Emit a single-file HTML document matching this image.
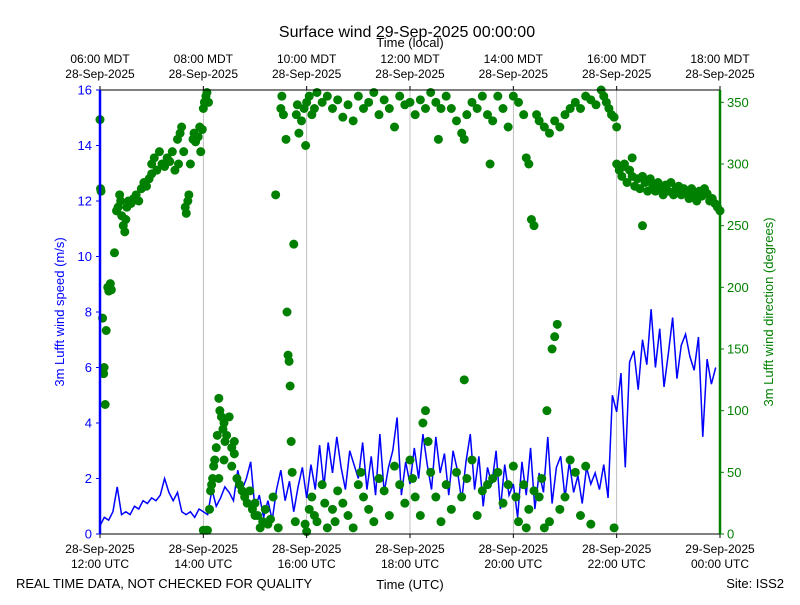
<!DOCTYPE html>
<html><head><meta charset="utf-8"><style>
body{margin:0;background:#fff}
svg{font-family:"Liberation Sans","DejaVu Sans",sans-serif}
</style></head><body>
<svg id="c" width="800" height="600" xmlns="http://www.w3.org/2000/svg">
<rect width="800" height="600" fill="#fff"/>
<text x="407" y="37" text-anchor="middle" font-size="16">Surface wind 29-Sep-2025 00:00:00</text>
<text x="410" y="47" text-anchor="middle" font-size="13">Time (local)</text>
<text x="410" y="589" text-anchor="middle" font-size="13">Time (UTC)</text>
<text x="16" y="588" font-size="13">REAL TIME DATA, NOT CHECKED FOR QUALITY</text>
<text x="784" y="588" text-anchor="end" font-size="13">Site: ISS2</text>
<text transform="translate(64,312) rotate(-90)" text-anchor="middle" font-size="13" fill="#0000ff">3m Lufft wind speed (m/s)</text>
<text transform="translate(773,312) rotate(-90)" text-anchor="middle" font-size="13" fill="#008000">3m Lufft wind direction (degrees)</text>
<g id="grid"></g><g id="marks"></g><g id="axes"></g>
</svg>
<script>
const xTickHours=[0,2,4,6,8,10,12];
const utcLabels=["12:00 UTC","14:00 UTC","16:00 UTC","18:00 UTC","20:00 UTC","22:00 UTC","00:00 UTC"];
const utcDates=["28-Sep-2025","28-Sep-2025","28-Sep-2025","28-Sep-2025","28-Sep-2025","28-Sep-2025","29-Sep-2025"];
const localLabels=["06:00 MDT","08:00 MDT","10:00 MDT","12:00 MDT","14:00 MDT","16:00 MDT","18:00 MDT"];
const speedTicks=[0,2,4,6,8,10,12,14,16];
const dirTicks=[0,50,100,150,200,250,300,350];
// wind speed, 5-minute samples starting 12:00 UTC
const speed=[0.3,0.6,0.5,0.8,1.7,0.7,0.8,0.7,1.0,0.9,1.2,1.1,1.3,1.2,1.4,2.0,1.5,1.2,1.5,0.8,0.7,0.8,0.6,0.9,
0.8,0.7,1.6,1.0,1.3,1.7,1.5,1.2,2.3,1.6,2.0,2.6,0.9,1.4,0.6,1.2,0.5,1.6,2.3,1.2,1.9,0.8,1.7,2.4,
1.3,2.5,1.6,3.2,1.7,3.3,2.2,3.5,2.4,1.6,3.0,2.5,2.0,3.3,1.6,2.8,1.4,3.6,1.5,2.4,3.0,4.2,1.4,2.6,
1.8,3.1,2.0,3.6,2.5,1.6,3.5,2.2,2.9,1.4,3.0,2.3,1.2,2.6,3.6,1.6,2.8,1.0,2.4,1.8,3.0,0.9,2.5,1.4,
1.8,0.6,2.6,1.4,3.1,0.9,2.2,1.5,3.5,1.1,2.4,2.8,1.3,2.6,1.5,2.1,1.1,2.4,1.8,2.2,1.6,2.5,1.3,5.0,
4.4,5.8,2.4,6.2,6.6,5.2,7.0,6.1,8.1,6.0,7.4,5.3,6.5,7.8,5.6,6.8,7.2,6.4,5.9,7.1,3.5,6.3,5.4,6.0];
// wind direction samples: hour offsets from 12:00 UTC (dirHours) and degrees (dirDeg), line-by-line aligned
const dirHours=[
0.0,0.01,0.02,0.05,0.07,0.08,0.1,0.12,0.15,0.17,0.2,0.22,0.28,0.32,0.35,0.38,0.4,0.42,0.45,0.48,
0.5,0.52,0.55,0.6,0.65,0.7,0.75,0.8,0.85,0.9,0.95,1.0,
1.0,1.05,1.1,1.15,1.2,1.25,1.3,1.35,1.4,1.45,1.5,1.55,1.52,1.58,
1.62,1.65,1.67,1.7,1.72,1.75,1.8,1.82,1.85,1.9,1.93,1.95,1.98,
2.0,2.02,2.05,2.07,2.0,2.05,2.08,2.1,
2.12,2.14,2.16,2.18,2.2,2.22,2.25,2.27,2.3,2.32,2.35,2.38,2.4,2.42,2.45,2.5,2.55,2.6,2.55,2.65,2.7,2.75,2.8,2.85,2.9,2.95,3.0,2.3,2.4,2.6,
3.0,3.05,3.1,3.15,3.2,3.25,3.3,3.35,3.4,3.45,
3.5,3.52,3.55,3.6,3.62,3.64,3.66,3.68,3.7,3.72,3.75,3.78,3.8,3.82,3.85,3.9,3.95,3.97,3.98,
4.0,4.05,4.1,4.15,4.2,4.3,4.4,4.5,4.6,4.7,4.8,4.9,5.0,5.1,5.2,5.3,5.4,5.5,5.6,5.7,5.8,5.9,
6.0,6.1,6.2,6.3,6.4,6.5,6.55,6.6,6.7,6.8,6.9,7.0,7.05,7.1,7.2,7.3,7.4,7.5,7.55,7.6,7.7,7.8,7.9,
8.0,8.1,8.2,8.25,8.3,8.35,8.4,8.45,8.5,8.6,8.7,8.8,8.9,9.0,9.1,9.2,9.3,
4.0,4.05,4.1,4.15,4.2,4.3,4.35,4.4,4.5,4.55,4.6,4.7,4.8,4.9,5.0,5.05,5.1,5.2,5.3,5.4,5.5,5.6,5.7,5.8,5.9,
6.0,6.05,6.1,6.2,6.25,6.3,6.35,6.4,6.5,6.6,6.7,6.8,6.9,7.0,7.05,7.1,7.2,7.3,7.4,7.5,7.6,7.7,7.8,7.9,
8.0,8.05,8.1,8.2,8.25,8.3,8.4,8.5,8.55,8.6,8.65,8.7,8.75,8.8,8.85,8.9,9.0,9.1,9.2,9.3,9.4,9.5,
9.4,9.5,9.6,9.7,9.75,9.8,9.85,9.9,9.95,10.0,9.95,
10.0,10.05,10.1,10.15,10.2,10.25,10.3,10.35,10.4,10.45,10.5,10.55,10.6,10.65,10.7,10.75,10.8,10.85,10.9,10.95,
11.0,11.05,11.1,11.15,11.2,11.25,11.3,11.35,11.4,11.45,11.5,11.55,11.6,11.65,11.7,11.75,11.8,11.85,11.9,11.95,12.0,10.5,10.15,10.3];
const dirDeg=[
336,280,278,175,130,135,105,165,200,197,203,198,228,262,265,275,270,258,250,245,
255,265,270,268,272,275,270,280,285,282,288,292,
300,305,295,310,300,298,305,302,310,295,320,325,300,330,
310,265,260,270,275,300,320,325,318,322,330,310,328,
345,350,355,358,3,3,3,350,
20,35,40,45,55,60,70,80,110,100,95,85,90,75,80,95,70,65,55,45,40,35,30,25,35,20,15,45,60,75,
25,15,5,10,20,8,12,30,275,5,
345,355,340,320,180,145,140,120,75,50,235,10,340,348,325,335,345,8,315,
350,355,340,345,358,350,355,345,352,338,348,335,355,345,350,358,340,352,345,330,355,348,
350,340,352,345,358,350,320,345,355,345,335,325,320,340,350,345,355,340,300,335,355,345,330,
355,350,340,305,300,255,250,340,335,330,325,335,330,340,345,350,345,
2,20,30,15,10,40,25,5,20,10,35,25,15,5,40,50,30,20,10,45,35,15,55,40,25,
60,45,30,15,90,100,75,50,30,10,40,20,50,30,125,45,60,15,35,40,45,50,25,40,
55,30,10,40,5,20,35,30,45,5,100,10,150,160,170,20,30,60,50,15,55,8,
355,352,348,360,355,350,345,340,338,330,5,
300,295,290,298,285,295,290,282,288,280,290,285,278,288,282,278,285,280,275,283,
278,285,275,280,282,275,280,278,272,280,275,270,278,274,280,276,270,272,268,265,262,250,300,305];
const X=h=>100+h*620/12, YS=v=>534-v*444/16, YD=d=>534-d*444/360;
const ns="http://www.w3.org/2000/svg";
function mk(tag,attrs,parent){const e=document.createElementNS(ns,tag);for(const k in attrs)e.setAttribute(k,attrs[k]);parent.appendChild(e);return e;}
const grid=document.getElementById('grid'),marks=document.getElementById('marks'),axes=document.getElementById('axes');
xTickHours.forEach((h,i)=>{
 if(i>0&&i<xTickHours.length-1){const g=mk('line',{x1:X(h),x2:X(h),y1:90,y2:534,stroke:'#b0b0b0','stroke-width':0.8},grid);
 
 }
 mk('line',{x1:X(h),x2:X(h),y1:534,y2:538,stroke:'#000'},axes);
 mk('line',{x1:X(h),x2:X(h),y1:86,y2:90,stroke:'#000'},axes);
 const t1=mk('text',{x:X(h),y:553,'text-anchor':'middle','font-size':12},axes);t1.textContent=utcDates[i];
 
 
 const t2=mk('text',{x:X(h),y:568,'text-anchor':'middle','font-size':12},axes);t2.textContent=utcLabels[i];
 
 
 const t3=mk('text',{x:X(h),y:63,'text-anchor':'middle','font-size':12},axes);t3.textContent=localLabels[i];
 
 
 const t4=mk('text',{x:X(h),y:78,'text-anchor':'middle','font-size':12},axes);t4.textContent=utcDates[0];
 
 
});
const pts=speed.map((v,i)=>X(i*5/60)+','+YS(v)).join(' ');
const pl=mk('polyline',{points:pts,fill:'none',stroke:'#0000ff','stroke-width':1.5},marks);


const n=Math.min(dirHours.length,dirDeg.length);
for(let i=0;i<n;i++){let d=Math.min(dirDeg[i],360);
 const c=mk('circle',{cx:X(dirHours[i]),cy:YD(d),r:4.5,fill:'#008000'},marks);
 
 
}
mk('rect',{x:100,y:90,width:620,height:444,fill:'none',stroke:'#000','stroke-width':1},axes);
mk('line',{x1:100,x2:100,y1:90,y2:534,stroke:'#0000ff','stroke-width':2.5},axes);
mk('line',{x1:720,x2:720,y1:90,y2:534,stroke:'#008000','stroke-width':2.5},axes);
speedTicks.forEach(v=>{mk('line',{x1:96,x2:100,y1:YS(v),y2:YS(v),stroke:'#0000ff'},axes);
 const t=mk('text',{x:92,y:YS(v)+4.5,'text-anchor':'end','font-size':13,fill:'#0000ff'},axes);t.textContent=v;
 
 });
dirTicks.forEach(v=>{mk('line',{x1:720,x2:724,y1:YD(v),y2:YD(v),stroke:'#008000'},axes);
 const t=mk('text',{x:727,y:YD(v)+4.5,'font-size':13,fill:'#008000'},axes);t.textContent=v;
 
 });
</script>
</body></html>
